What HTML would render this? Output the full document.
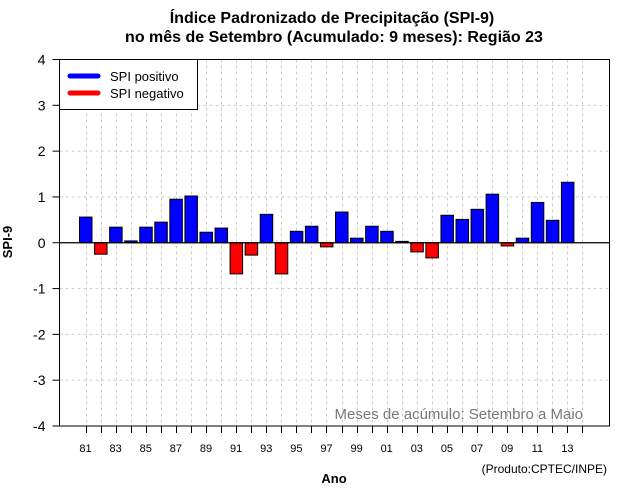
<!DOCTYPE html>
<html><head><meta charset="utf-8"><style>
html,body{margin:0;padding:0;background:#fff;}
svg{display:block;font-family:"Liberation Sans",sans-serif;}
</style></head><body>
<svg id="chart" width="640" height="500" viewBox="0 0 640 500" xmlns="http://www.w3.org/2000/svg">
<text x="332" y="23" text-anchor="middle" font-size="16" font-weight="bold">Índice Padronizado de Precipitação (SPI-9)</text>
<text x="334" y="42" text-anchor="middle" font-size="16" font-weight="bold">no mês de Setembro (Acumulado: 9 meses): Região 23</text>
<g id="grid"></g>
<g id="bars"></g>
<g id="axes"></g>
<g>
<rect x="59.5" y="59.5" width="138" height="50" fill="#fff" stroke="#000" stroke-width="1"/>
<line x1="70" y1="76" x2="98" y2="76" stroke="#0000ff" stroke-width="5" stroke-linecap="round"/>
<text x="110" y="81" font-size="13">SPI positivo</text>
<line x1="70" y1="93" x2="98" y2="93" stroke="#ff0000" stroke-width="5" stroke-linecap="round"/>
<text x="110" y="98" font-size="13">SPI negativo</text>
</g>
<text x="583" y="419" text-anchor="end" font-size="15" fill="#777">Meses de acúmulo: Setembro a Maio</text>
<text transform="translate(12,242) rotate(-90)" text-anchor="middle" font-size="13" font-weight="bold">SPI-9</text>
<text x="334" y="483" text-anchor="middle" font-size="13" font-weight="bold">Ano</text>
<text x="607" y="473" text-anchor="end" font-size="12">(Produto:CPTEC/INPE)</text>
</svg>
<script>
const years = ["81","82","83","84","85","86","87","88","89","90","91","92","93","94","95","96","97","98","99","00","01","02","03","04","05","06","07","08","09","10","11","12","13"];
const spiValues = [0.56,-0.25,0.34,0.04,0.34,0.45,0.95,1.02,0.23,0.32,-0.68,-0.27,0.62,-0.68,0.25,0.36,-0.09,0.67,0.1,0.36,0.25,0.03,-0.2,-0.33,0.6,0.51,0.73,1.06,-0.07,0.1,0.88,0.49,1.32];
const yTicks = [-4,-3,-2,-1,0,1,2,3,4];
const xTickLabels = ["81","83","85","87","89","91","93","95","97","99","01","03","05","07","09","11","13"];

const NS = "http://www.w3.org/2000/svg";
const L = 59.5, R = 609.5, T = 59.5, B = 426;
const yMin = -4, yMax = 4;
const nTicks = years.length + 1;
function yScale(v){ return B - (v - yMin) / (yMax - yMin) * (B - T); }
function xScale(i){ return 85.5 + i * 15.06; }
function mk(tag, attrs, parent){ const e = document.createElementNS(NS, tag); for (const k in attrs) e.setAttribute(k, attrs[k]); parent.appendChild(e); return e; }

const grid = document.getElementById('grid');
const bars = document.getElementById('bars');
const axes = document.getElementById('axes');

yTicks.forEach(v => {
  const y = yScale(v);
  const g = mk('line', {x1:L, x2:R, y1:y, y2:y, stroke:'#cccccc', 'stroke-dasharray':'3,3', 'stroke-width':1}, grid);
  
  
  const t = mk('line', {x1:L-7, x2:L, y1:y, y2:y, stroke:'#000'}, axes);
  
  
  const lb = mk('text', {x:L-14, y:y+5, 'text-anchor':'end', 'font-size':14}, axes);
  
  
  lb.textContent = String(v);
});

for (let i = 0; i < nTicks; i++) {
  const x = Math.round(xScale(i)) + 0.5;
  const g = mk('line', {x1:x, x2:x, y1:T, y2:B, stroke:'#cccccc', 'stroke-dasharray':'3,3', 'stroke-width':1}, grid);
  
  
  const t = mk('line', {x1:x, x2:x, y1:B, y2:B+7, stroke:'#000'}, axes);
  
  
}

xTickLabels.forEach(lbl => {
  const i = years.indexOf(lbl);
  const tx = mk('text', {x:xScale(i), y:452, 'text-anchor':'middle', 'font-size':11}, axes);
  
  
  tx.textContent = lbl;
});

const y0 = yScale(0);
spiValues.forEach((v, i) => {
  const cx = xScale(i);
  const y = yScale(v);
  const r = mk('rect', {x:cx-6, y:Math.min(y, y0), width:12.5, height:Math.abs(y - y0), fill: v >= 0 ? '#0000ff' : '#ff0000', stroke:'#000', 'stroke-width':1}, bars);
  
  
});

const zl = mk('line', {x1:L, x2:R, y1:y0, y2:y0, stroke:'#000', 'stroke-width':1.2}, axes);


const frame = mk('rect', {x:L, y:T, width:R-L, height:B-T, fill:'none', stroke:'#000', 'stroke-width':1}, axes);


</script>
</body></html>
